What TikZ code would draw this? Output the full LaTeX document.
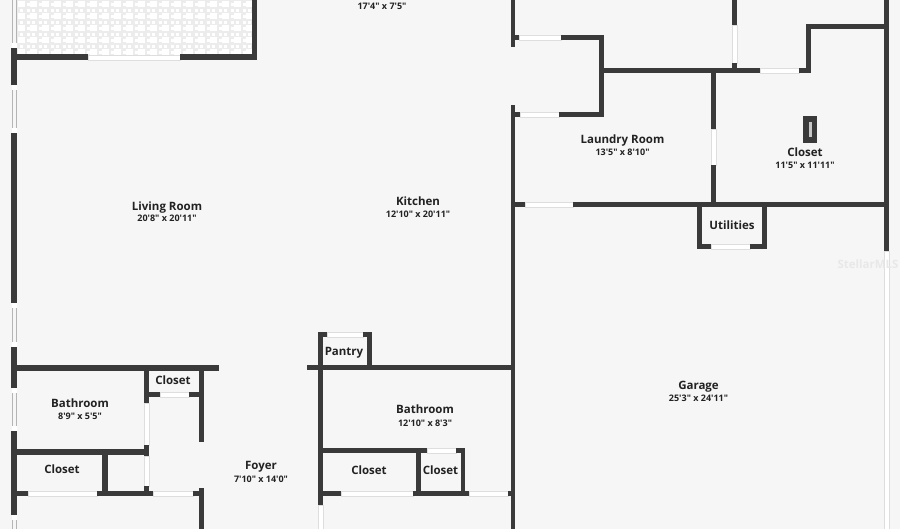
\documentclass[tikz,border=0pt]{standalone}
\usepackage{fontspec}
\setmainfont{Open Sans}[Ligatures=TeXOff]
\definecolor{bgc}{HTML}{F6F6F6}
\definecolor{wallc}{HTML}{3A3A3A}
\definecolor{linec}{HTML}{DEDEDE}
\definecolor{winc}{HTML}{B4B4B4}
\definecolor{txtc}{HTML}{222222}
\definecolor{patc}{HTML}{ECECEC}
\tikzset{
  wallbar/.style={fill=wallc,draw=none},
  doorbar/.style={fill=white,draw=linec,line width=0.5pt},
  winbar/.style={fill=bgc,draw=winc,line width=0.6pt},
  roomname/.style={font=\fontsize{11.5}{12}\selectfont\bfseries,text=txtc,inner sep=0pt,text height=8.5pt,text depth=0pt,anchor=center},
  roomsize/.style={font=\fontsize{9}{10}\selectfont\bfseries,text=txtc,inner sep=0pt,text height=7pt,text depth=0pt,anchor=center},
}
\newcommand{\W}[4]{\fill[wallbar] (#1,#2) rectangle (#3,#4);}
\newcommand{\D}[4]{\path[doorbar] (#1,#2) rectangle (#3,#4);}
\newcommand{\G}[2]{\path[winbar] (11.8,#1) rectangle (16.2,#2);
  \fill[white] (11.5,#1) rectangle (16.5,#1+5);
  \fill[white] (11.5,#2-5) rectangle (16.5,#2);}
\begin{document}
\begin{tikzpicture}[x=1pt,y=-1pt]
\useasboundingbox (0,0) rectangle (900,529);
\fill[bgc] (0,0) rectangle (900,529);
% patio
\fill[patc] (16,0) rectangle (252,55);
\begin{scope}
\clip (16,0) rectangle (252,55);
\foreach \i in {0,...,20}{\foreach \j in {0,...,5}{
  \fill[white] ({18+12*\i},{1+12*\j}) rectangle +(6.5,6.5);
  \fill[white] ({27+12*\i},{3+12*\j}) rectangle +(3,3);
  \fill[white] ({20+12*\i},{9.5+12*\j}) rectangle +(3,3);
  \fill[white] ({27+12*\i},{9.5+12*\j}) rectangle +(3,3);
}}
\end{scope}
% windows and doors
\path[winbar] (11.8,-2) rectangle (16.2,48);
\fill[white] (11.5,43) rectangle (16.5,48);
\G{85}{133}
\G{303}{347}
\G{388}{431}
\path[winbar] (11.8,515) rectangle (16.2,531);
\fill[white] (11.5,515) rectangle (16.5,520);
\D{88}{55}{180}{60}
\D{144}{403}{149}{445}
\D{144}{456}{149}{486}
\D{28}{491}{97}{496}
\D{153}{491}{193}{496}
\D{160}{392}{189}{397}
\D{327}{332}{363}{337}
\D{318}{505}{323}{529}
\D{427}{448}{456}{453}
\D{341}{491}{413}{496}
\D{469}{491}{508}{496}
\D{519}{35}{561}{40}
\D{520}{112}{559}{117}
\D{760}{68}{799}{73}
\D{732}{25}{737}{63}
\D{711}{129}{716}{165}
\D{525}{202}{573}{207}
\D{711}{244}{750}{249}
\D{884}{251}{889}{531}
% walls: left part
\W{11.3}{48}{16.7}{85}
\W{11.3}{133}{16.7}{303}
\W{11.3}{347}{16.7}{388}
\W{11.3}{431}{16.7}{515}
\W{251.5}{0}{257}{60}
\W{16}{54.5}{88}{60}
\W{180}{54.5}{257}{60}
\W{16}{365}{219}{371}
\W{144}{371}{149}{403}
\W{144}{445}{149}{456}
\W{144}{486}{149}{496}
\W{16}{449}{149}{455}
\W{102}{455}{108}{496}
\W{16}{491}{28}{496}
\W{97}{491}{153}{496}
\W{193}{491}{204}{496}
\W{199}{371}{204}{442}
\W{199}{488}{204}{529}
\W{149}{392}{160}{397}
\W{189}{392}{199}{397}
% walls: centre
\W{318}{332}{323}{505}
\W{318}{332}{327}{337}
\W{363}{332}{372}{337}
\W{367}{332}{372}{365}
\W{307}{365}{511}{370}
\W{323}{448}{427}{453}
\W{456}{448}{465}{453}
\W{416}{453}{421}{493}
\W{461}{448}{465}{496}
\W{323}{491}{341}{496}
\W{413}{491}{469}{496}
\W{508}{491}{511}{496}
\W{510.5}{0}{515}{47}
\W{510.5}{105}{515}{529}
% walls: right part
\W{515}{35}{519}{40}
\W{561}{35}{604}{40}
\W{599}{35}{604}{116}
\W{515}{112}{520}{117}
\W{559}{112}{604}{117}
\W{604}{68}{760}{73}
\W{799}{68}{811}{73}
\W{806}{24}{811}{73}
\W{806}{24}{884}{29}
\W{884}{0}{889}{251}
\W{732}{0}{737}{25}
\W{732}{63}{737}{68}
\W{711}{73}{716}{129}
\W{711}{165}{716}{203}
\W{515}{202}{525}{207}
\W{573}{202}{884}{207}
\W{697}{207}{702}{249}
\W{762}{207}{767}{249}
\W{697}{244}{711}{249}
\W{750}{244}{767}{249}
% stove
\W{803}{116}{817}{143}
\fill[black!22] (809,122) rectangle (811.5,137);
% labels
\node[roomsize] (topsize) at (382,6) {17'4" x 7'5"};
\node[roomname] (living) at (167,206) {Living Room};
\node[roomsize] (livings) at (167,218.5) {20'8" x 20'11"};
\node[roomname] (kitchen) at (418,201.5) {Kitchen};
\node[roomsize] (kitchens) at (418,214.5) {12'10" x 20'11"};
\node[roomname] (laundry) at (622.5,139) {Laundry Room};
\node[roomsize] (laundrys) at (622.5,152) {13'5" x 8'10"};
\node[roomname] (closeta) at (805,152) {Closet};
\node[roomsize] (closetas) at (805,165) {11'5" x 11'11"};
\node[roomname] (util) at (732,225) {Utilities};
\node[roomname] (garage) at (698.5,385.5) {Garage};
\node[roomsize] (garages) at (698.5,398.5) {25'3" x 24'11"};
\node[roomname] (batha) at (80,403.5) {Bathroom};
\node[roomsize] (bathas) at (80,416.5) {8'9" x 5'5"};
\node[roomname] (closetb) at (173,380.5) {Closet};
\node[roomname] (closetc) at (62,469.5) {Closet};
\node[roomname] (foyer) at (261,465.5) {Foyer};
\node[roomsize] (foyers) at (261,478.5) {7'10" x 14'0"};
\node[roomname] (pantry) at (344,351.5) {Pantry};
\node[roomname] (bathb) at (425,409.5) {Bathroom};
\node[roomsize] (bathbs) at (425,422.5) {12'10" x 8'3"};
\node[roomname] (closetd) at (369,470) {Closet};
\node[roomname] (closete) at (440.5,470) {Closet};
\node[font=\fontsize{11.5}{12}\selectfont\bfseries,text=black!9,inner sep=0pt] (mark) at (868,264) {StellarMLS};
\end{tikzpicture}
\end{document}
